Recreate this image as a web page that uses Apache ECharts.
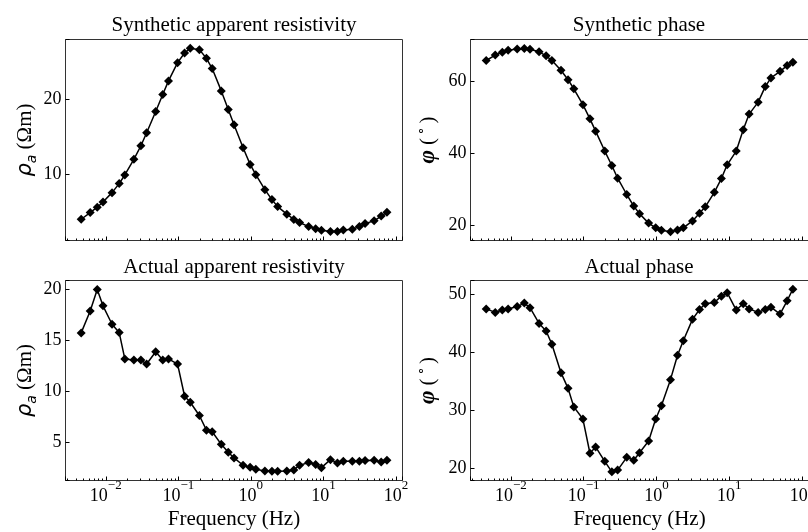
<!DOCTYPE html>
<html><head><meta charset="utf-8">
<script src="https://cdn.jsdelivr.net/npm/echarts@6/dist/echarts.min.js"></script>
<style>html,body{margin:0;padding:0;background:#fff}#c{width:808px;height:532px}</style>
</head><body><div id="c"></div>
<script>
// Frequencies (Hz)
const freq = [0.00458, 0.0061, 0.00763, 0.00916, 0.0122, 0.0153, 0.0183, 0.0244, 0.0305, 0.0366,
  0.0488, 0.061, 0.0732, 0.0977, 0.122, 0.146, 0.195, 0.244, 0.293, 0.391,
  0.488, 0.586, 0.781, 0.977, 1.17, 1.56, 1.95, 2.34, 3.13, 3.91,
  4.69, 6.25, 7.81, 9.38, 12.5, 15.6, 18.8, 25, 31.3, 37.5,
  50, 62.5, 75];
// Synthetic apparent resistivity (Ohm m)
const synRho = [3.98, 4.87, 5.58, 6.28, 7.52, 8.72, 9.87, 11.95, 13.76, 15.49,
  18.32, 20.58, 22.39, 24.82, 26.1, 26.73, 26.55, 25.4, 24.03, 21.06,
  18.58, 16.55, 13.5, 11.28, 9.91, 7.92, 6.59, 5.66, 4.65, 3.95,
  3.55, 3.0, 2.72, 2.52, 2.36, 2.36, 2.54, 2.64, 3.0, 3.4,
  3.77, 4.4, 4.91];
// Synthetic phase (deg)
const synPhase = [65.6, 67.1, 67.9, 68.4, 68.8, 68.9, 68.7, 68.0, 66.9, 65.6,
  62.9, 60.3, 57.8, 53.4, 49.5, 46.1, 40.6, 36.6, 33.1, 28.6,
  25.4, 23.3, 20.7, 19.4, 18.7, 18.3, 18.8, 19.4, 21.3, 23.4,
  25.2, 29.2, 33.0, 36.8, 40.6, 46.5, 50.8, 54.1, 58.4, 60.8,
  62.6, 64.2, 65.1];
// Actual apparent resistivity (Ohm m)
const actRho = [15.75, 17.9, 20.0, 18.4, 16.6, 15.8, 13.2, 13.1, 13.1, 12.7,
  13.9, 13.1, 13.2, 12.7, 9.55, 8.96, 7.66, 6.23, 6.07, 4.84,
  4.06, 3.51, 2.79, 2.6, 2.4, 2.24, 2.21, 2.21, 2.24, 2.34,
  2.79, 3.05, 2.86, 2.56, 3.34, 3.02, 3.18, 3.18, 3.18, 3.25,
  3.28, 3.12, 3.28];
// Actual phase (deg)
const actPhase = [47.5, 46.9, 47.3, 47.5, 47.9, 48.5, 47.7, 45.0, 43.7, 41.4,
  36.5, 33.8, 30.6, 28.5, 22.6, 23.7, 21.2, 19.4, 19.7, 21.9,
  21.4, 22.7, 24.7, 28.5, 30.8, 35.3, 39.5, 42.0, 45.7, 47.4,
  48.4, 48.6, 49.7, 50.3, 47.3, 48.4, 47.5, 46.9, 47.4, 47.8,
  46.6, 48.9, 50.9];

const titles = ['Synthetic apparent resistivity', 'Synthetic phase', 'Actual apparent resistivity', 'Actual phase'];
const xLabel = 'Frequency (Hz)';

const SERIF = '"Liberation Serif", "Times New Roman", serif';
const X_MIN = 0.002786, X_MAX = 123.0;
const yRanges = [[1.15, 27.9], [15.9, 71.4], [1.3, 20.88], [17.9, 52.4]];
const ySplit = [3, 3, 4, 4];
const ySteps = [10, 20, 5, 10];
const grids = [
  {left: 65.5, top: 39.5, width: 337, height: 201},
  {left: 470.5, top: 39.5, width: 338, height: 201},
  {left: 65.5, top: 280.5, width: 337, height: 200},
  {left: 470.5, top: 280.5, width: 338, height: 200}
];
const values = [synRho, synPhase, actRho, actPhase];

// log minor tick positions (2..9 x 10^n)
const minorPos = [];
for (let n = -3; n <= 2; n++) for (let m = 2; m <= 9; m++) {
  const f = m * Math.pow(10, n);
  if (f > X_MIN && f < X_MAX) minorPos.push(f);
}

const rhoName = '{rho|ρ}{sub|a}{n| (Ωm)}';
const phiName = '{phi|φ}{n| (}{sup| ∘ }{n|)}';
const nameRich = {
  rho: {fontFamily: '"DejaVu Sans", sans-serif', fontStyle: 'italic', fontSize: 21, lineHeight: 28, color: '#000'},
  sub: {fontFamily: '"DejaVu Sans", sans-serif', fontStyle: 'italic', fontSize: 14, lineHeight: 14, verticalAlign: 'bottom', color: '#000'},
  n: {fontFamily: SERIF, fontSize: 21, lineHeight: 28, color: '#000'},
  phi: {fontFamily: SERIF, fontStyle: 'italic', fontWeight: 'bold', fontSize: 23, lineHeight: 28, color: '#000'},
  sup: {fontFamily: SERIF, fontSize: 13, lineHeight: 13, verticalAlign: 'top', color: '#000'}
};

function xFmt(v) {
  const e = Math.log10(v);
  const r = Math.round(e);
  if (Math.abs(e - r) > 1e-6) return '';
  return '{b|10}{s|' + (r < 0 ? '\u2212' + (-r) : String(r)) + '}';
}

const option = {
  backgroundColor: '#fff',
  animation: false,
  grid: grids.map(g => Object.assign({show: true, borderColor: '#333', borderWidth: 1, backgroundColor: 'transparent',
    containLabel: false, outerBoundsMode: 'none'}, g)),
  xAxis: grids.map((g, i) => ({
    type: 'log', gridIndex: i, min: X_MIN, max: X_MAX, logBase: 10,
    splitLine: {show: false},
    axisLine: {show: false},
    axisTick: {show: true, inside: true, length: 4, lineStyle: {color: '#000', width: 1}},
    minorTick: {show: false},
    axisLabel: {show: i >= 2, formatter: xFmt, margin: -1, showMinLabel: true, showMaxLabel: true, hideOverlap: false,
      rich: {
        b: {fontFamily: SERIF, fontSize: 18, lineHeight: 33, color: '#000'},
        s: {fontFamily: SERIF, fontSize: 13, lineHeight: 13, verticalAlign: 'top', color: '#000'}
      }},
    name: i >= 2 ? xLabel : '',
    nameLocation: 'middle', nameGap: 28,
    nameTextStyle: {fontFamily: SERIF, fontSize: 21, color: '#000'}
  })),
  yAxis: grids.map((g, i) => ({
    type: 'value', gridIndex: i, min: yRanges[i][0], max: yRanges[i][1], splitNumber: ySplit[i],
    splitLine: {show: false},
    axisLine: {show: false},
    axisTick: {show: true, inside: true, length: 4, lineStyle: {color: '#000', width: 1}},
    axisLabel: {margin: 4, fontFamily: SERIF, fontSize: 18, color: '#000',
      formatter: v => (Math.abs(v / ySteps[i] - Math.round(v / ySteps[i])) < 1e-6 ? String(Math.round(v)) : '')},
    name: (i % 2 === 0) ? rhoName : phiName,
    nameLocation: 'middle', nameRotate: 90, nameGap: (i % 2 === 0) ? 26 : 28,
    nameTextStyle: {rich: nameRich, fontFamily: SERIF, fontSize: 21, color: '#000'}
  })),
  graphic: titles.map((t, i) => ({
    type: 'text',
    x: grids[i].left + grids[i].width / 2 - (i % 2 === 1 ? 0.5 : 0),
    y: i < 2 ? 25 : 267,
    style: {text: t, font: '21px ' + SERIF, fill: '#000', textAlign: 'center', textVerticalAlign: 'middle'},
    silent: true
  })),
  series: []
};

values.forEach((vals, i) => {
  option.series.push({
    type: 'line', xAxisIndex: i, yAxisIndex: i,
    data: freq.map((f, k) => [f, vals[k]]),
    symbol: 'diamond', symbolSize: 9, showSymbol: true, showAllSymbol: true,
    lineStyle: {color: '#000', width: 1.5},
    itemStyle: {color: '#000'},
    clip: false, silent: true, z: 3
  });
  option.series.push({
    type: 'custom', xAxisIndex: i, yAxisIndex: i, silent: true, clip: false, z: 2,
    data: minorPos.map(f => [f, yRanges[i][0]]),
    renderItem: (params, api) => {
      const p = api.coord([api.value(0), api.value(1)]);
      const x = Math.round(p[0] - 0.5) + 0.5;
      return {type: 'line', shape: {x1: x, y1: p[1], x2: x, y2: p[1] - 2}, style: {stroke: '#000', lineWidth: 1}};
    }
  });
});

const chart = echarts.init(document.getElementById('c'), null, {renderer: 'canvas'});
chart.setOption(option);
</script>
</body></html>
